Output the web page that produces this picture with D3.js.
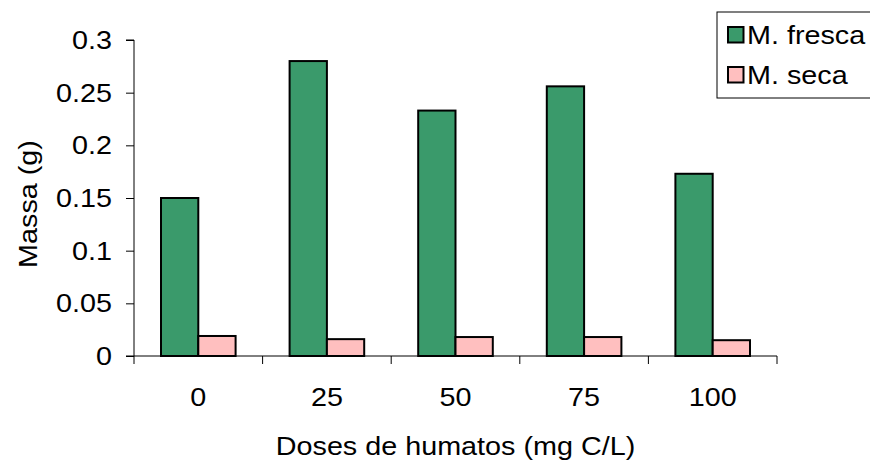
<!DOCTYPE html>
<html>
<head>
<meta charset="utf-8">
<script src="https://cdn.jsdelivr.net/npm/d3@7"></script>
<style>
  html, body { margin: 0; padding: 0; background: #fff; }
  svg { display: block; font-family: "Liberation Sans", Arial, sans-serif; }
</style>
</head>
<body>
<svg id="chart" width="870" height="461"></svg>
<script>
// Doses of humate (mg C/L)
const doses = ["0", "25", "50", "75", "100"];
// Fresh and dry mass (g)
const massaFresca = [0.150, 0.280, 0.233, 0.256, 0.173];
const massaSeca = [0.019, 0.016, 0.018, 0.018, 0.015];
const seriesNames = ["M. fresca", "M. seca"];
const seriesColors = ["#3a9a6b", "#ffbfbf"];
const yTicks = [0, 0.05, 0.1, 0.15, 0.2, 0.25, 0.3];

const FONT = 25;      // label font size
const WIDEN = 1.15;   // horizontal stretch of the lettering

const svg = d3.select("#chart");
const plotLeft = 134, plotRight = 777, plotTop = 40, plotBottom = 356;

const x = d3.scaleBand().domain(doses).range([plotLeft, plotRight]).paddingInner(0).paddingOuter(0);
const y = d3.scaleLinear().domain([0, 0.3]).range([plotBottom, plotTop]);
const x1 = d3.scaleBand().domain(seriesNames).range([27, x.bandwidth() - 27]);

// place a text at (tx, ty) with the lettering widened horizontally
function label(parent, tx, ty, str, anchor, rotate) {
  const rot = rotate ? ` rotate(${rotate})` : "";
  return parent.append("text")
    .attr("transform", `translate(${tx},${ty})${rot} scale(${WIDEN},1)`)
    .attr("text-anchor", anchor)
    .attr("font-size", FONT)
    .attr("fill", "#000")
    .text(str);
}

const series = [massaFresca, massaSeca];

// bars
series.forEach((vals, si) => {
  svg.append("g").selectAll("rect")
    .data(vals)
    .join("rect")
    .attr("x", (d, i) => x(doses[i]) + x1(seriesNames[si]))
    .attr("y", d => y(d))
    .attr("width", x1.bandwidth())
    .attr("height", d => y(0) - y(d))
    .attr("fill", seriesColors[si])
    .attr("stroke", "#000")
    .attr("stroke-width", 2);
});

// y axis
const yAxis = d3.axisLeft(y).tickValues(yTicks).tickSize(8).tickFormat(() => "");
const gy = svg.append("g").attr("transform", `translate(${plotLeft},0)`).call(yAxis);
gy.select(".domain").attr("d", `M-8,${plotTop}H0V${plotBottom}H-8`).attr("stroke", "#000");
gy.selectAll(".tick line").attr("stroke", "#000");
gy.selectAll(".tick text").remove();
yTicks.forEach(v => label(svg, 112, y(v) + 9, String(+v.toFixed(2)), "end"));

// x axis: baseline with ticks at band boundaries
const gx = svg.append("g").attr("transform", `translate(0,${plotBottom})`);
gx.append("line").attr("x1", plotLeft).attr("x2", plotRight).attr("y1", 0).attr("y2", 0).attr("stroke", "#000");
const boundaries = doses.map(d => x(d)).concat([x(doses[doses.length - 1]) + x.bandwidth()]);
gx.selectAll("line.tk").data(boundaries).join("line").attr("class", "tk")
  .attr("x1", d => d).attr("x2", d => d).attr("y1", 0).attr("y2", 8).attr("stroke", "#000");
doses.forEach(d => label(svg, x(d) + x.bandwidth() / 2, 406, d, "middle"));

// axis titles
label(svg, (plotLeft + plotRight) / 2, 455, "Doses de humatos (mg C/L)", "middle");
label(svg, 37, 204, "Massa (g)", "middle", -90);

// legend
const lg = svg.append("g");
lg.append("rect").attr("x", 717).attr("y", 12).attr("width", 160).attr("height", 86)
  .attr("fill", "#fff").attr("stroke", "#000").attr("stroke-width", 1);
seriesNames.forEach((name, i) => {
  const cy = 35 + i * 40;
  lg.append("rect").attr("x", 728).attr("y", cy - 8).attr("width", 15.5).attr("height", 15.5)
    .attr("fill", seriesColors[i]).attr("stroke", "#000").attr("stroke-width", 2);
  label(lg, 747, cy + 8.5, name, "start");
});
</script>
</body>
</html>
